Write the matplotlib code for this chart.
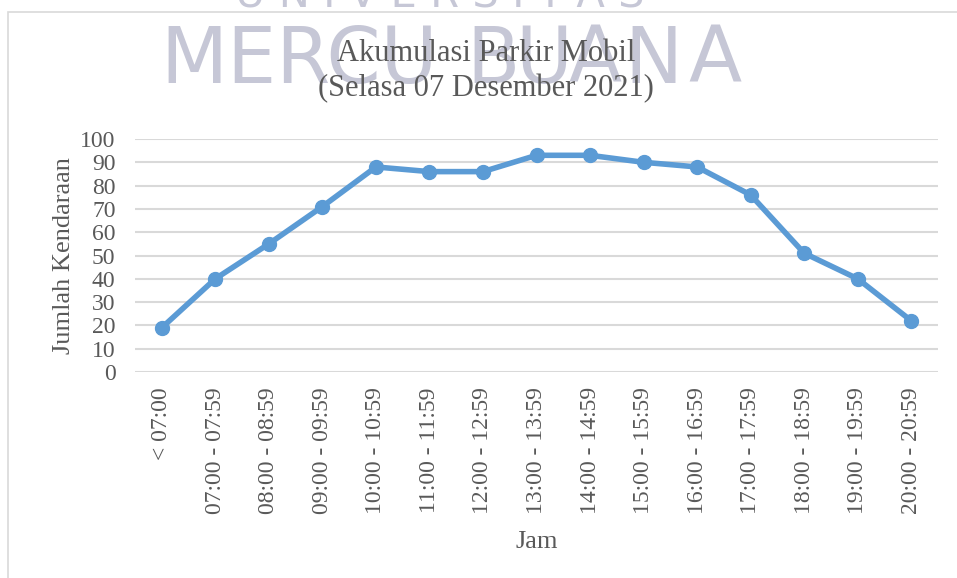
import matplotlib
matplotlib.use("Agg")
import matplotlib.pyplot as plt
from matplotlib.patches import Rectangle

# Data
categories = [
    "< 07:00", "07:00 - 07:59", "08:00 - 08:59", "09:00 - 09:59",
    "10:00 - 10:59", "11:00 - 11:59", "12:00 - 12:59", "13:00 - 13:59",
    "14:00 - 14:59", "15:00 - 15:59", "16:00 - 16:59", "17:00 - 17:59",
    "18:00 - 18:59", "19:00 - 19:59", "20:00 - 20:59",
]
jumlah = [19, 40, 55, 71, 88, 86, 86, 93, 93, 90, 88, 76, 51, 40, 22]
y_ticks = list(range(0, 101, 10))

TEXT = "#595959"
GRID = "#D9D9D9"
LINE = "#5B9BD5"
WATER = "#C6C7D6"

W, H = 957, 578
plt.rcParams["font.family"] = ["Liberation Serif", "DejaVu Serif"]

fig = plt.figure(figsize=(W / 100, H / 100), dpi=100)

# chart frame
fig.patches.append(Rectangle((8 / W, -0.1), 1.2, 1 - 12 / H + 0.1,
                             transform=fig.transFigure, fill=False,
                             edgecolor=GRID, linewidth=1.2))

# watermark of the scanned page
wm = dict(color=WATER, family="Liberation Sans Narrow", va="baseline",
          ha="left", fontsize=56, zorder=0)
fig.text(160 / W, 1 - 83 / H, "MERCU", **wm)
for ch, px in zip("BUANA", [466, 515, 568, 624, 688]):
    fig.text(px / W, 1 - 83 / H, ch, **wm)
fig.text(440 / W, 1 - 8 / H, "U N I V E R S I T A S",
         **{**wm, "fontsize": 30, "ha": "center"})

ax = fig.add_axes([135 / W, 1 - 372 / H, (938 - 135) / W, (372 - 139) / H])
ax.set_facecolor("none")
x = list(range(len(categories)))
ax.plot(x, jumlah, color=LINE, linewidth=4, marker="o", markersize=10,
        solid_capstyle="round", zorder=3)

ax.set_xlim(-0.5, len(categories) - 0.5)
ax.set_ylim(0, 100)
ax.set_yticks(y_ticks)
ax.set_xticks(x)
ax.set_xticklabels(categories, rotation=90)
ax.grid(axis="y", color=GRID, linewidth=1.5)
ax.set_axisbelow(True)
for s in ax.spines.values():
    s.set_visible(False)
ax.tick_params(length=0, labelsize=17, colors=TEXT)
ax.tick_params(axis="y", pad=14)
ax.tick_params(axis="x", pad=11)

ax.set_xlabel("Jam", fontsize=19, color=TEXT, labelpad=12)
ax.set_ylabel("Jumlah Kendaraan", fontsize=19, color=TEXT, labelpad=4)

fig.text(486 / W, 1 - 71 / H, "Akumulasi Parkir Mobil\n(Selasa 07 Desember 2021)",
         ha="center", va="center", fontsize=22, color=TEXT, linespacing=1.3)

fig.savefig("out.png", dpi=100, facecolor="white")
